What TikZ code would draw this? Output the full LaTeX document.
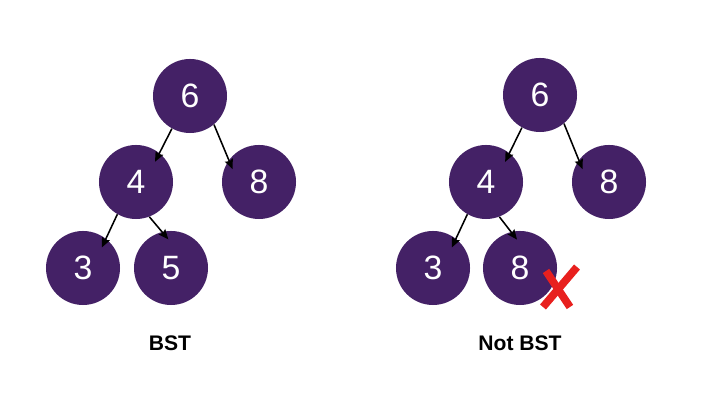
\documentclass[tikz,border=0pt]{standalone}
\usepackage{fontspec}
\setmainfont{Liberation Sans}
\usetikzlibrary{arrows.meta}
\definecolor{bstpurple}{RGB}{68,33,102}
\definecolor{crossred}{RGB}{232,32,30}

\begin{document}
\begin{tikzpicture}[x=0.025cm,y=-0.025cm,
  treenode/.style={circle,fill=bstpurple,minimum size=1.85cm,inner sep=0pt,
    text=white,font=\fontsize{24}{28}\selectfont},
  edge/.style={-{Stealth[length=7pt,width=6pt,inset=1pt]},line width=1.1pt,black,
    shorten >=-7pt},
  caption/.style={font=\fontsize{15}{18}\selectfont\bfseries}]

% white background, fixes the size
\fill[white] (0,0) rectangle (711,411);

% left tree: a valid BST
\node[treenode] (lsix) at (190,96) {6};
\node[treenode] (lfour) at (136,182) {4};
\node[treenode] (leight) at (259,182) {8};
\node[treenode] (lthree) at (83,268) {3};
\node[treenode] (lfive) at (171,268) {5};

\draw[edge] (lsix.241) -- (lfour.51);
\draw[edge] (lsix.-50) -- (leight.144);
\draw[edge] (lfour.240) -- (lthree.52);
\draw[edge] (lfour.291) -- (lfive.104);

\node[caption] (lcap) at (170,343) {BST};

% right tree: not a BST
\node[treenode] (rsix) at (540,95) {6};
\node[treenode] (rfour) at (486,182) {4};
\node[treenode] (reight) at (609,182) {8};
\node[treenode] (rthree) at (433,268) {3};
\node[treenode] (rbad) at (520,268) {8};

\draw[edge] (rsix.241) -- (rfour.51);
\draw[edge] (rsix.-50) -- (reight.144);
\draw[edge] (rfour.240) -- (rthree.52);
\draw[edge] (rfour.291) -- (rbad.104);

% red cross on the wrong node
\draw[crossred,line width=5.5pt] (577,267) -- (543,307);
\draw[crossred,line width=5.5pt] (546,271) -- (570,307);

\node[caption] (rcap) at (520,343) {Not BST};

\end{tikzpicture}
\end{document}
